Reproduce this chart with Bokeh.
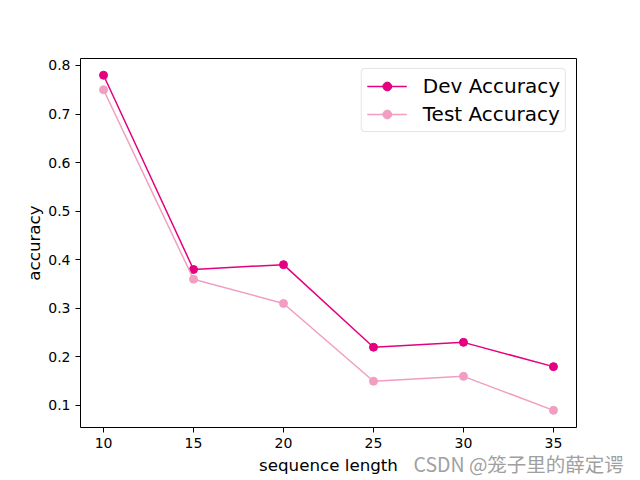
from bokeh.plotting import figure
from bokeh.models import Range1d, Title
from bokeh.embed import file_html
from bokeh.resources import INLINE

seq_len = [10, 15, 20, 25, 30, 35]
dev_acc = [0.78, 0.38, 0.39, 0.22, 0.23, 0.18]
test_acc = [0.75, 0.36, 0.31, 0.15, 0.16, 0.09]
x_ticks = [10, 15, 20, 25, 30, 35]
y_ticks = [0.1, 0.2, 0.3, 0.4, 0.5, 0.6, 0.7, 0.8]

DEV = "#E4007F"
TEST = "#F19EC2"

p = figure(width=640, height=480, output_backend="svg", toolbar_location=None,
           x_range=Range1d(8.72, 36.28), y_range=Range1d(0.0547, 0.8144),
           min_border_left=80, min_border_right=64, min_border_top=58, min_border_bottom=53)
p.background_fill_color = "white"
p.border_fill_color = "white"
p.outline_line_color = "black"
p.outline_line_width = 1
p.grid.visible = False

p.line(seq_len, dev_acc, color=DEV, line_width=1.5, legend_label="Dev Accuracy")
p.scatter(seq_len, dev_acc, color=DEV, size=8, legend_label="Dev Accuracy")
p.line(seq_len, test_acc, color=TEST, line_width=1.5, legend_label="Test Accuracy")
p.scatter(seq_len, test_acc, color=TEST, size=8, legend_label="Test Accuracy")

for ax in (p.xaxis, p.yaxis):
    ax.major_tick_out = 5
    ax.major_tick_in = 0
    ax.minor_tick_line_color = None
    ax.axis_line_color = None
    ax.major_label_text_font = "DejaVu Sans"
    ax.major_label_text_font_size = "14px"
    ax.major_label_text_color = "black"
    ax.axis_label_text_font = "DejaVu Sans"
    ax.axis_label_text_font_size = "16.7px"
    ax.axis_label_text_font_style = "normal"
    ax.axis_label_text_color = "black"
    ax.major_label_standoff = 5
p.xaxis.ticker = x_ticks
p.yaxis.ticker = y_ticks
p.xaxis.axis_label = "sequence length"
p.yaxis.axis_label = "accuracy"
p.xaxis.axis_label_standoff = 4
p.yaxis.axis_label_standoff = 1

lg = p.legend[0]
lg.location = "top_right"
lg.label_text_font = "DejaVu Sans"
lg.label_text_font_size = "20px"
lg.label_text_color = "black"
lg.border_line_color = "#cccccc"
lg.border_line_width = 1
lg.border_radius = 4
lg.background_fill_alpha = 0.8
lg.glyph_width = 40
lg.glyph_height = 22
lg.label_standoff = 16
lg.spacing = 4
lg.padding = 5
lg.margin = 10
lg.label_height = 22

wm = Title(text="CSDN @笼子里的薛定谔", text_font="Noto Sans CJK SC", text_font_size="19.5px",
           text_font_style="normal", text_color="#a0a0a0", align="left", offset=333,
           vertical_align="top", standoff=-58)
p.add_layout(wm, "below")

open("out.html", "w").write(file_html(p, INLINE))
